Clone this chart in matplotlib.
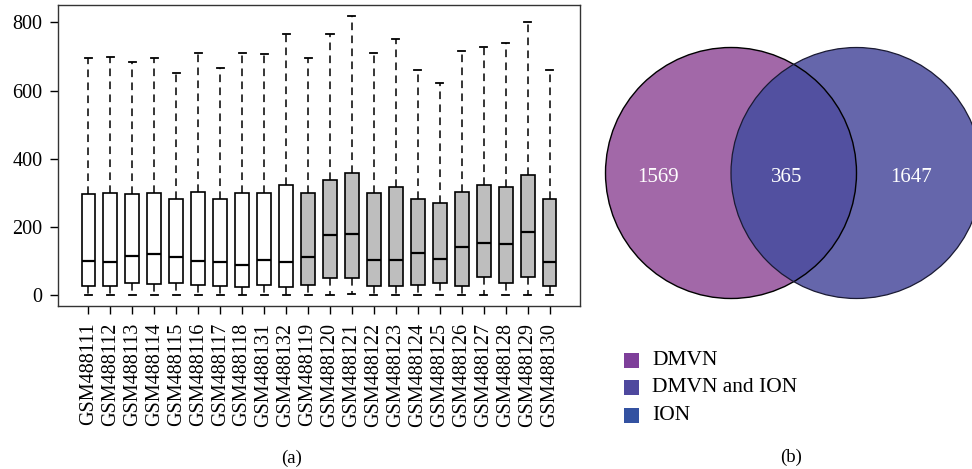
import matplotlib
matplotlib.use("Agg")
import matplotlib.pyplot as plt
from matplotlib.patches import Circle, Rectangle

plt.rcParams['font.family'] = ['Liberation Serif', 'DejaVu Serif']

# box plot data
samples = ['GSM488111', 'GSM488112', 'GSM488113', 'GSM488114', 'GSM488115',
           'GSM488116', 'GSM488117', 'GSM488118', 'GSM488131', 'GSM488132',
           'GSM488119', 'GSM488120', 'GSM488121', 'GSM488122', 'GSM488123',
           'GSM488124', 'GSM488125', 'GSM488126', 'GSM488127', 'GSM488128',
           'GSM488129', 'GSM488130']
whis_lo = [1, 1, 1, 1, 1, 1, 1, 1, 1, 1, 1, 2, 4, 1, 1, 1, 1, 1, 2, 1, 1, 1]
q1 = [28, 28, 37, 34, 35, 30, 28, 24, 30, 25, 30, 50, 52, 29, 29, 32, 36, 27, 55, 35, 54, 28]
median = [102, 98, 116, 121, 112, 100, 97, 89, 103, 98, 113, 176, 179, 103, 103, 124, 106, 141, 154, 151, 187, 97]
q3 = [297, 299, 296, 299, 282, 303, 284, 299, 300, 323, 299, 337, 358, 301, 318, 284, 271, 302, 325, 317, 353, 282]
whis_hi = [696, 700, 683, 695, 652, 710, 667, 710, 706, 767, 696, 767, 818, 710, 750, 660, 622, 715, 728, 741, 802, 660]
n_white = 10

# venn data
venn_counts = [1569, 365, 1647]
legend_labels = ['DMVN', 'DMVN and ION', 'ION']
legend_colors = ['#7e3f9a', '#4e489e', '#3352a1']

fig = plt.figure(figsize=(9.72, 4.69), dpi=100)

# (a) boxplot
ax = fig.add_axes([58 / 972, 1 - 306 / 469, 522 / 972, 301 / 469])
stats = []
for i in range(len(samples)):
    stats.append(dict(whislo=whis_lo[i], q1=q1[i], med=median[i], q3=q3[i], whishi=whis_hi[i]))
pos = list(range(1, len(samples) + 1))
bp = ax.bxp(stats, positions=pos, widths=0.62, showfliers=False, patch_artist=True,
            capwidths=0.32,
            boxprops=dict(linewidth=1.2, edgecolor='black'),
            medianprops=dict(color='black', linewidth=1.6),
            whiskerprops=dict(color='black', linewidth=1.1, linestyle=(0, (5, 3.5))),
            capprops=dict(color='black', linewidth=1.3))
for i, box in enumerate(bp['boxes']):
    box.set_facecolor('white' if i < n_white else '#bebebe')

ax.set_xlim(-0.38, 23.38)
ax.set_ylim(-31, 851)
ax.set_yticks([0, 200, 400, 600, 800])
ax.set_xticks(pos)
ax.set_xticklabels(samples, rotation=90)
ax.tick_params(axis='both', labelsize=14.5, length=6, width=1.0)
ax.tick_params(axis='x', pad=6)
ax.tick_params(axis='y', pad=5)
for s in ax.spines.values():
    s.set_linewidth(1.0)
    s.set_color('#333333')
fig.text(292 / 972, 1 - 458 / 469, '(a)', ha='center', va='center', fontsize=13.5)

# (b) venn diagram, drawn in pixel units of the right panel
vx = fig.add_axes([590 / 972, 0, 382 / 972, 1])
vx.set_xlim(0, 382)
vx.set_ylim(469, 0)
vx.axis('off')

left_c = Circle((141, 173), 125.5, facecolor='#a268a8', edgecolor='none', zorder=1)
right_c = Circle((266.5, 173), 125.5, facecolor='#6566ab', edgecolor='none', zorder=1)
vx.add_patch(left_c)
vx.add_patch(right_c)
inter = Circle((266.5, 173), 125.5, facecolor='#5250a0', edgecolor='none', zorder=2)
vx.add_patch(inter)
inter.set_clip_path(Circle((141, 173), 125.5, transform=vx.transData))
vx.add_patch(Circle((141, 173), 125.5, facecolor='none', edgecolor='black', linewidth=1.0, zorder=3))
vx.add_patch(Circle((266.5, 173), 125.5, facecolor='none', edgecolor='#1a1a33', linewidth=0.9, zorder=3))

for xc, n in zip([68, 197, 321], venn_counts):
    vx.text(xc, 177, str(n), color='white', fontsize=15, ha='center', va='center', zorder=4)

for i, (lab, col) in enumerate(zip(legend_labels, legend_colors)):
    y0 = 353 + i * 27.3
    vx.add_patch(Rectangle((34, y0), 15, 15, facecolor=col, edgecolor='none'))
    vx.text(62, y0 + 7.5, lab, fontsize=15.5, ha='left', va='center')

fig.text(791 / 972, 1 - 457 / 469, '(b)', ha='center', va='center', fontsize=13.5)

fig.savefig('out.png', dpi=100)
